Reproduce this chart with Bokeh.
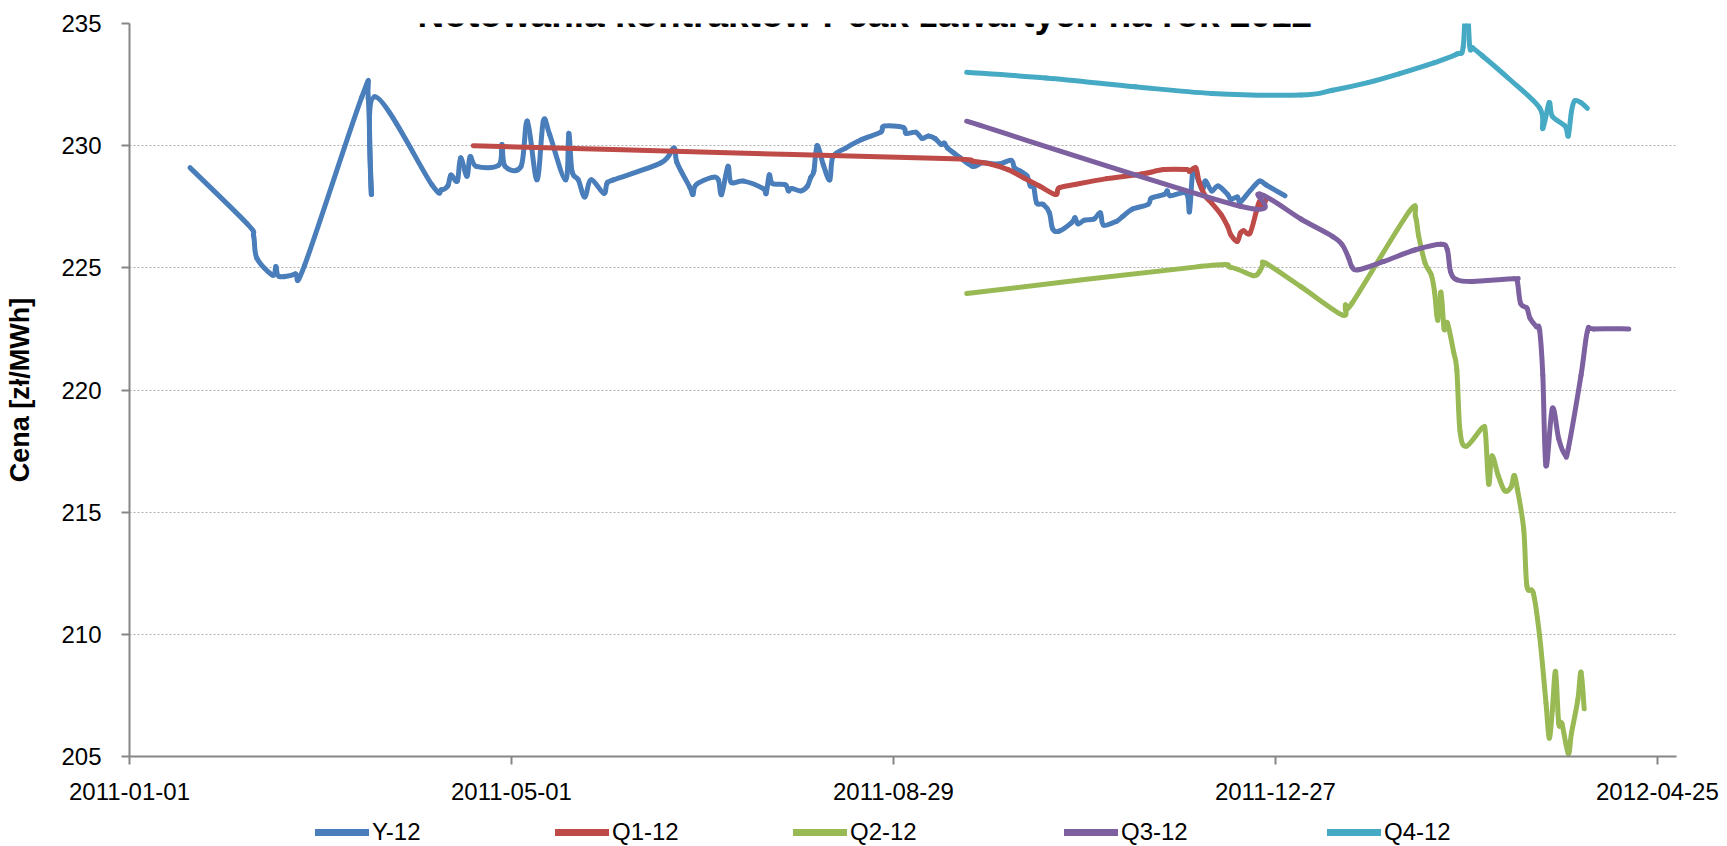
import pandas as pd
from bokeh.plotting import figure
from bokeh.layouts import column
from bokeh.models import (ColumnDataSource, FixedTicker, DatetimeTickFormatter, Label,
                          Legend, LegendItem, Range1d)
from bokeh.embed import file_html
from bokeh.resources import INLINE

TITLE = "Notowania kontraktów Peak zawartych na rok 2012"
Y_LABEL = "Cena [zł/MWh]"
SERIES = ["Y-12", "Q1-12", "Q2-12", "Q3-12", "Q4-12"]
COLORS = ["#4A7EBB", "#BE4B48", "#98B954", "#7D60A0", "#46AAC5"]
X_TICKS = ["2011-01-01", "2011-05-01", "2011-08-29", "2011-12-27", "2012-04-25"]
Y_TICKS = [205, 210, 215, 220, 225, 230, 235]
X_START, X_END = "2011-01-01", "2012-05-01"
Y_START, Y_END = 205, 235

y12_dates = ["2011-01-20", "2011-02-07", "2011-02-09", "2011-02-10", "2011-02-15", "2011-02-16",
             "2011-02-17", "2011-02-22", "2011-02-25", "2011-03-15", "2011-03-17", "2011-03-18",
             "2011-03-19", "2011-04-06", "2011-04-09", "2011-04-11", "2011-04-12", "2011-04-14",
             "2011-04-15", "2011-04-17", "2011-04-18", "2011-04-20", "2011-04-27", "2011-04-28",
             "2011-04-29", "2011-05-04", "2011-05-06", "2011-05-09", "2011-05-11", "2011-05-13",
             "2011-05-18", "2011-05-19", "2011-05-20", "2011-05-22", "2011-05-24", "2011-05-26",
             "2011-05-30", "2011-05-31", "2011-06-02", "2011-06-17", "2011-06-21", "2011-06-22",
             "2011-06-26", "2011-06-27", "2011-06-28", "2011-07-03", "2011-07-05", "2011-07-06",
             "2011-07-08", "2011-07-09", "2011-07-13", "2011-07-19", "2011-07-20", "2011-07-21",
             "2011-07-22", "2011-07-26", "2011-07-27", "2011-07-28", "2011-07-31", "2011-08-02",
             "2011-08-03", "2011-08-04", "2011-08-05", "2011-08-07", "2011-08-09", "2011-08-10",
             "2011-08-14", "2011-08-19", "2011-08-25", "2011-08-26", "2011-09-01", "2011-09-02",
             "2011-09-05", "2011-09-07", "2011-09-09", "2011-09-11", "2011-09-13", "2011-09-14",
             "2011-09-15", "2011-09-17", "2011-09-19", "2011-09-23", "2011-09-26", "2011-10-01",
             "2011-10-05", "2011-10-06", "2011-10-08", "2011-10-10", "2011-10-11", "2011-10-12",
             "2011-10-13", "2011-10-15", "2011-10-17", "2011-10-18", "2011-10-20", "2011-10-24",
             "2011-10-25", "2011-10-26", "2011-10-28", "2011-10-31", "2011-11-02", "2011-11-03",
             "2011-11-07", "2011-11-09", "2011-11-12", "2011-11-17", "2011-11-18", "2011-11-22",
             "2011-11-23", "2011-11-24", "2011-11-29", "2011-11-30", "2011-12-01", "2011-12-02",
             "2011-12-04", "2011-12-05", "2011-12-07", "2011-12-09", "2011-12-12", "2011-12-13",
             "2011-12-15", "2011-12-16", "2011-12-19", "2011-12-22", "2011-12-24", "2011-12-30"]
y12_vals = [229.1, 226.8, 226.3, 225.4, 224.7, 225.05,
            224.65, 224.75, 225.1, 232.0, 231.95, 228.0,
            232.0, 228.4, 228.2, 228.35, 228.8, 228.55,
            229.5, 228.75, 229.55, 229.15, 229.2, 230.05,
            229.15, 229.15, 231.0, 228.6, 231.0, 230.45,
            228.6, 230.5, 228.95, 228.6, 227.9, 228.6,
            228.05, 228.45, 228.6, 229.3, 229.9, 229.3,
            228.3, 228.0, 228.4, 228.7, 228.6, 228.0,
            229.15, 228.5, 228.55, 228.25, 228.05, 228.8,
            228.45, 228.4, 228.15, 228.25, 228.15, 228.35,
            228.7, 228.95, 230.0, 229.2, 228.6, 229.55,
            229.9, 230.25, 230.55, 230.8, 230.75, 230.5,
            230.55, 230.3, 230.4, 230.3, 230.05, 230.1,
            229.9, 229.7, 229.5, 229.15, 229.3, 229.25,
            229.4, 229.1, 228.95, 228.75, 228.35, 228.35,
            227.65, 227.6, 227.25, 226.6, 226.5, 226.85,
            227.05, 226.8, 226.95, 227.0, 227.25, 226.75,
            226.9, 227.1, 227.4, 227.6, 227.85, 228.0,
            228.15, 227.95, 228.05, 227.3, 228.95, 228.85,
            228.2, 228.55, 228.15, 228.35, 228.0, 227.8,
            227.9, 227.7, 228.15, 228.55, 228.4, 227.95]

q1_dates = ["2011-04-19", "2011-07-05", "2011-09-14", "2011-09-23", "2011-09-29", "2011-10-04",
            "2011-10-09", "2011-10-14", "2011-10-19", "2011-10-20", "2011-10-25", "2011-11-04",
            "2011-11-15", "2011-11-22", "2011-11-29", "2011-11-30", "2011-12-02", "2011-12-03",
            "2011-12-05", "2011-12-07", "2011-12-10", "2011-12-12", "2011-12-13", "2011-12-15",
            "2011-12-16", "2011-12-17", "2011-12-19", "2011-12-21", "2011-12-22", "2011-12-23",
            "2011-12-24"]
q1_vals = [230.0, 229.72, 229.47, 229.36, 229.23, 229.02,
           228.68, 228.34, 228.0, 228.27, 228.41, 228.65,
           228.84, 229.02, 229.02, 228.95, 229.09, 228.54,
           227.93, 227.65, 227.17, 226.69, 226.35, 226.08,
           226.42, 226.52, 226.42, 227.31, 227.72, 227.45,
           227.79]

q2_dates = ["2011-09-21", "2011-12-03", "2011-12-13", "2011-12-20", "2011-12-22", "2011-12-23",
            "2011-12-24", "2012-01-04", "2012-01-17", "2012-01-18", "2012-01-20", "2012-02-07",
            "2012-02-09", "2012-02-10", "2012-02-12", "2012-02-14", "2012-02-15", "2012-02-16",
            "2012-02-17", "2012-02-18", "2012-02-19", "2012-02-21", "2012-02-22", "2012-02-23",
            "2012-02-25", "2012-03-01", "2012-03-02", "2012-03-03", "2012-03-04", "2012-03-06",
            "2012-03-08", "2012-03-10", "2012-03-11", "2012-03-12", "2012-03-14", "2012-03-15",
            "2012-03-17", "2012-03-19", "2012-03-21", "2012-03-22", "2012-03-23", "2012-03-24",
            "2012-03-25", "2012-03-26", "2012-03-28", "2012-03-29", "2012-03-31", "2012-04-01",
            "2012-04-02"]
q2_vals = [223.95, 225.05, 225.02, 224.68, 224.85, 225.1,
           225.19, 224.23, 223.07, 223.48, 223.54, 227.3,
           227.1, 226.3, 225.2, 224.7, 224.0, 222.85,
           224.0, 222.5, 222.75, 221.55, 220.8, 218.3,
           217.7, 218.45, 218.2, 216.15, 217.3, 216.5,
           215.88, 216.02, 216.5, 215.95, 214.3, 211.98,
           211.7, 209.93, 207.19, 205.75, 206.9, 208.48,
           206.35, 206.35, 205.12, 205.95, 207.32, 208.45,
           206.95]

q3_dates = ["2011-09-21", "2011-12-16", "2011-12-22", "2012-01-04", "2012-01-14", "2012-01-17",
            "2012-01-19", "2012-01-20", "2012-01-22", "2012-01-30", "2012-02-09", "2012-02-17",
            "2012-02-19", "2012-02-20", "2012-02-22", "2012-02-27", "2012-03-11", "2012-03-12",
            "2012-03-13", "2012-03-15", "2012-03-16", "2012-03-18", "2012-03-19", "2012-03-20",
            "2012-03-21", "2012-03-23", "2012-03-25", "2012-03-27", "2012-03-28", "2012-04-01",
            "2012-04-03", "2012-04-05", "2012-04-16"]
q3_vals = [231.0, 227.52, 228.02, 227.0, 226.28, 225.94,
           225.4, 225.05, 224.92, 225.26, 225.74, 225.97,
           225.74, 224.85, 224.51, 224.44, 224.55, 224.45,
           223.55, 223.35, 222.93, 222.59, 222.45, 220.6,
           216.9, 219.25, 218.0, 217.35, 217.6, 220.6,
           222.4, 222.5, 222.5]

q4_dates = ["2011-09-21", "2011-10-16", "2011-11-13", "2011-12-07", "2012-01-04", "2012-01-14",
            "2012-01-25", "2012-02-04", "2012-02-15", "2012-02-22", "2012-02-24", "2012-02-25",
            "2012-02-26", "2012-02-27", "2012-03-01", "2012-03-09", "2012-03-19", "2012-03-20",
            "2012-03-22", "2012-03-23", "2012-03-27", "2012-03-28", "2012-03-29", "2012-03-30",
            "2012-04-01", "2012-04-03"]
q4_vals = [233.0, 232.77, 232.41, 232.14, 232.07, 232.27,
           232.58, 232.95, 233.4, 233.75, 234.05, 236.5,
           234.1, 234.0, 233.68, 232.78, 231.55, 230.7,
           231.76, 231.2, 230.8, 230.4, 231.4, 231.83,
           231.76, 231.53]

ALL_DATES = [y12_dates, q1_dates, q2_dates, q3_dates, q4_dates]
ALL_VALS = [y12_vals, q1_vals, q2_vals, q3_vals, q4_vals]


def ms(d):
    return pd.Timestamp(d).timestamp() * 1000.0


def smoothed_segments(dates, vals):
    """Bezier segments through the data points (smoothed line, like the source chart)."""
    xs = [ms(d) for d in dates]
    ys = list(vals)
    n = len(xs)
    seg = dict(x0=[], y0=[], x1=[], y1=[], cx0=[], cy0=[], cx1=[], cy1=[])
    for i in range(n - 1):
        a = max(i - 1, 0)
        b = min(i + 2, n - 1)
        seg["x0"].append(xs[i]); seg["y0"].append(ys[i])
        seg["x1"].append(xs[i + 1]); seg["y1"].append(ys[i + 1])
        seg["cx0"].append(xs[i] + (xs[i + 1] - xs[a]) / 6.0)
        seg["cy0"].append(ys[i] + (ys[i + 1] - ys[a]) / 6.0)
        seg["cx1"].append(xs[i + 1] - (xs[b] - xs[i]) / 6.0)
        seg["cy1"].append(ys[i + 1] - (ys[b] - ys[i]) / 6.0)
    return seg


FONT = "Liberation Sans"
GREY = "#868686"

# ---------------- main chart ----------------
p = figure(width=1727, height=810, x_axis_type="datetime",
           x_range=Range1d(ms(X_START), ms(X_END)), y_range=Range1d(Y_START, Y_END),
           output_backend="svg", toolbar_location=None,
           min_border_left=129, min_border_right=51, min_border_top=23, min_border_bottom=54,
           background_fill_color="white", border_fill_color="white")
p.outline_line_color = None

p.xgrid.visible = False
p.ygrid.grid_line_color = "#b0b0b0"
p.ygrid.grid_line_dash = "2 2"
p.ygrid.grid_line_width = 1

p.yaxis.ticker = FixedTicker(ticks=Y_TICKS)
p.xaxis.ticker = FixedTicker(ticks=[ms(t) for t in X_TICKS])
fmt = "%Y-%m-%d"
p.xaxis.formatter = DatetimeTickFormatter(milliseconds=fmt, seconds=fmt, minsec=fmt, minutes=fmt,
                                          hourmin=fmt, hours=fmt, days=fmt, months=fmt, years=fmt)
for ax in (p.xaxis[0], p.yaxis[0]):
    ax.axis_line_color = GREY
    ax.axis_line_width = 2
    ax.major_tick_line_color = GREY
    ax.major_tick_line_width = 2
    ax.major_tick_out = 8
    ax.major_tick_in = 0
    ax.minor_tick_line_color = None
    ax.major_label_text_font = FONT
    ax.major_label_text_font_size = "24px"
    ax.major_label_text_color = "black"
p.yaxis.major_label_standoff = 20
p.xaxis.major_label_standoff = 18
p.yaxis.axis_label = Y_LABEL
p.yaxis.axis_label_text_font = FONT
p.yaxis.axis_label_text_font_size = "27px"
p.yaxis.axis_label_text_font_style = "bold"
p.yaxis.axis_label_text_color = "black"
p.yaxis.axis_label_standoff = 23

for color, dts, vals in zip(COLORS, ALL_DATES, ALL_VALS):
    src = ColumnDataSource(smoothed_segments(dts, vals))
    p.bezier(x0="x0", y0="y0", x1="x1", y1="y1", cx0="cx0", cy0="cy0", cx1="cx1", cy1="cy1",
             source=src, line_color=color, line_width=5, line_cap="round", line_join="round")

# title (its upper part is cut by the top edge, as in the source image)
title = Label(x=ms("2011-08-20"), y=235.37, text=TITLE, text_align="center",
              text_baseline="alphabetic", text_font=FONT, text_font_size="37px",
              text_font_style="bold", text_color="black")
p.add_layout(title)

# ---------------- legend strip ----------------
lg = figure(width=1727, height=36, x_range=Range1d(0, 1), y_range=Range1d(0, 1),
            output_backend="svg", toolbar_location=None,
            min_border_left=0, min_border_right=0, min_border_top=0, min_border_bottom=0,
            background_fill_color="white", border_fill_color="white")
lg.outline_line_color = None
lg.axis.visible = False
lg.grid.visible = False

LEGEND_X = [186, 426, 664, 935, 1198]   # screen positions of the legend entries
for name, color, lx in zip(SERIES, COLORS, LEGEND_X):
    swatch = lg.line(x=[5, 6], y=[5, 6], line_color=color, line_width=7, line_cap="round")
    leg = Legend(items=[LegendItem(label=name, renderers=[swatch])], location=(lx, 0),
                 orientation="horizontal", glyph_width=54, glyph_height=20, label_standoff=3,
                 padding=0, margin=0, border_line_color=None, background_fill_alpha=0,
                 label_text_font=FONT, label_text_font_size="24px", label_text_color="black")
    lg.add_layout(leg)

open("out.html", "w").write(file_html(column(p, lg), INLINE))
